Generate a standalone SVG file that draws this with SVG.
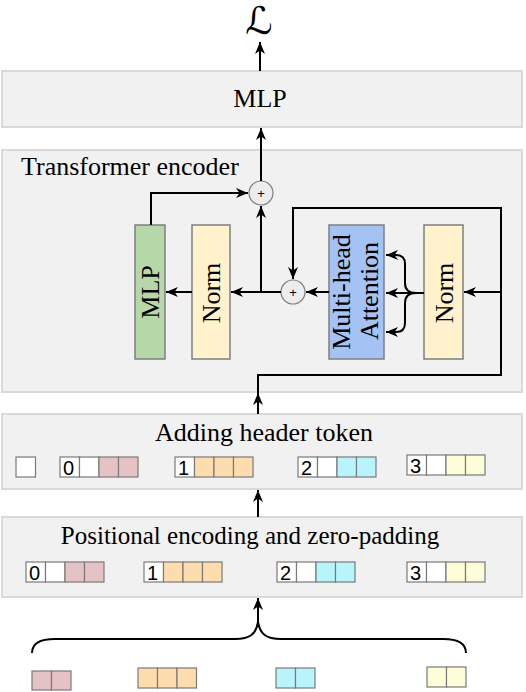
<svg xmlns="http://www.w3.org/2000/svg" width="526" height="692" viewBox="0 0 526 692">
<style>
.panel{fill:#f1f1f1;stroke:#d9d9d9;stroke-width:2}
.blk{stroke:#7f7f7f;stroke-width:1.5}
.t{font-family:"Liberation Serif",serif;font-size:26px;fill:#000}
.t25{font-family:"Liberation Serif",serif;font-size:25px;fill:#000}
.tr{font-family:"Liberation Serif",serif;font-size:26px;fill:#000}
.num{font-family:"Liberation Sans",sans-serif;font-size:20px;fill:#000}
.cell{stroke:#7a7a7a;stroke-width:1.2}
.w{fill:#ffffff}.p{fill:#e5c3c4}.o{fill:#fddcad}.c{fill:#b8f4fc}.y{fill:#fdfdd9}
.ln{fill:none;stroke:#000;stroke-width:2}
.circ{fill:#ededed;stroke:#7f7f7f;stroke-width:1.2}
.plus{font-family:"Liberation Sans",sans-serif;font-size:13px;fill:#000}
</style>
<defs>
<marker id="ah" markerUnits="userSpaceOnUse" markerWidth="14" markerHeight="12" refX="12" refY="5" orient="auto" viewBox="0 0 14 12">
<path d="M0,0 L12,5 L0,10 L3.5,5 Z" fill="#000"/>
</marker>
</defs>

<g id="loss"><text x="259" y="34" font-family="DejaVu Serif, DejaVu Sans, serif" font-size="38" text-anchor="middle">ℒ</text></g>

<g id="mlp-head">
<rect class="panel" x="2" y="71" width="520" height="56"/>
<text class="t" x="260" y="107" text-anchor="middle">MLP</text>
</g>

<g id="encoder">
<rect class="panel" x="2" y="150" width="520" height="242"/>
<text class="t" x="21" y="175">Transformer encoder</text>
</g>

<g id="enc-mlp">
<rect class="blk" x="135" y="225" width="30" height="134" fill="#b6d7a8"/>
<text class="tr" transform="translate(150,292) rotate(-90)" x="0" y="9" text-anchor="middle">MLP</text>
</g>
<g id="norm2">
<rect class="blk" x="192" y="225" width="38" height="134" fill="#fff2cc"/>
<text class="tr" transform="translate(211,293) rotate(-90)" x="0" y="9" text-anchor="middle">Norm</text>
</g>
<g id="mha">
<rect class="blk" x="329" y="225" width="55" height="134" fill="#a4c2f4"/>
<text class="tr" transform="translate(350,292) rotate(-90)" x="0" y="0" text-anchor="middle">Multi-head</text>
<text class="tr" transform="translate(378,291) rotate(-90)" x="0" y="0" text-anchor="middle">Attention</text>
</g>
<g id="norm1">
<rect class="blk" x="424" y="225" width="39" height="134" fill="#fff2cc"/>
<text class="tr" transform="translate(443.5,293) rotate(-90)" x="0" y="9" text-anchor="middle">Norm</text>
</g>
<g id="add1">
<circle class="circ" cx="293" cy="292" r="12"/>
<text class="plus" x="293" y="297" text-anchor="middle">+</text>
</g>
<g id="add2">
<circle class="circ" cx="261" cy="193" r="12"/>
<text class="plus" x="261" y="198" text-anchor="middle">+</text>
</g>

<g id="header">
<rect class="panel" x="2" y="414" width="520" height="75"/>
<text class="t" x="264" y="441" text-anchor="middle">Adding header token</text>
<rect class="cell w" x="16" y="457" width="19.5" height="20"/>
<g transform="translate(60,457)">
<rect class="cell w" x="0" y="0" width="19.5" height="20"/><rect class="cell w" x="19.5" y="0" width="19.5" height="20"/><rect class="cell p" x="39" y="0" width="19.5" height="20"/><rect class="cell p" x="58.5" y="0" width="19.5" height="20"/>
<text class="num" x="3" y="18">0</text></g>
<g transform="translate(175,457)">
<rect class="cell w" x="0" y="0" width="19.5" height="20"/><rect class="cell o" x="19.5" y="0" width="19.5" height="20"/><rect class="cell o" x="39" y="0" width="19.5" height="20"/><rect class="cell o" x="58.5" y="0" width="19.5" height="20"/>
<text class="num" x="3" y="18">1</text></g>
<g transform="translate(298,457)">
<rect class="cell w" x="0" y="0" width="19.5" height="20"/><rect class="cell w" x="19.5" y="0" width="19.5" height="20"/><rect class="cell c" x="39" y="0" width="19.5" height="20"/><rect class="cell c" x="58.5" y="0" width="19.5" height="20"/>
<text class="num" x="3" y="18">2</text></g>
<g transform="translate(407,455)">
<rect class="cell w" x="0" y="0" width="19.5" height="20"/><rect class="cell w" x="19.5" y="0" width="19.5" height="20"/><rect class="cell y" x="39" y="0" width="19.5" height="20"/><rect class="cell y" x="58.5" y="0" width="19.5" height="20"/>
<text class="num" x="3" y="18">3</text></g>
</g>

<g id="positional">
<rect class="panel" x="2" y="517" width="520" height="80"/>
<text class="t25" x="250" y="544" text-anchor="middle">Positional encoding and zero-padding</text>
<g transform="translate(26,562)">
<rect class="cell w" x="0" y="0" width="19.5" height="20"/><rect class="cell w" x="19.5" y="0" width="19.5" height="20"/><rect class="cell p" x="39" y="0" width="19.5" height="20"/><rect class="cell p" x="58.5" y="0" width="19.5" height="20"/>
<text class="num" x="3" y="18">0</text></g>
<g transform="translate(144,562)">
<rect class="cell w" x="0" y="0" width="19.5" height="20"/><rect class="cell o" x="19.5" y="0" width="19.5" height="20"/><rect class="cell o" x="39" y="0" width="19.5" height="20"/><rect class="cell o" x="58.5" y="0" width="19.5" height="20"/>
<text class="num" x="3" y="18">1</text></g>
<g transform="translate(277,562)">
<rect class="cell w" x="0" y="0" width="19.5" height="20"/><rect class="cell w" x="19.5" y="0" width="19.5" height="20"/><rect class="cell c" x="39" y="0" width="19.5" height="20"/><rect class="cell c" x="58.5" y="0" width="19.5" height="20"/>
<text class="num" x="3" y="18">2</text></g>
<g transform="translate(407,562)">
<rect class="cell w" x="0" y="0" width="19.5" height="20"/><rect class="cell w" x="19.5" y="0" width="19.5" height="20"/><rect class="cell y" x="39" y="0" width="19.5" height="20"/><rect class="cell y" x="58.5" y="0" width="19.5" height="20"/>
<text class="num" x="3" y="18">3</text></g>
</g>

<g id="inputs">
<g transform="translate(32,671)"><rect class="cell p" x="0" y="0" width="19.5" height="19"/><rect class="cell p" x="19.5" y="0" width="19.5" height="19"/></g>
<g transform="translate(138,668)"><rect class="cell o" x="0" y="0" width="19.5" height="20"/><rect class="cell o" x="19.5" y="0" width="19.5" height="20"/><rect class="cell o" x="39" y="0" width="19.5" height="20"/></g>
<g transform="translate(276,668)"><rect class="cell c" x="0" y="0" width="19.5" height="20"/><rect class="cell c" x="19.5" y="0" width="19.5" height="20"/></g>
<g transform="translate(427,667)"><rect class="cell y" x="0" y="0" width="19.5" height="20"/><rect class="cell y" x="19.5" y="0" width="19.5" height="20"/></g>
</g>

<g id="connectors">
<line class="ln" x1="260" y1="71" x2="260" y2="42" marker-end="url(#ah)"/>
<line class="ln" x1="261" y1="181" x2="261" y2="128" marker-end="url(#ah)"/>
<polyline class="ln" points="151,225 151,193 248,193" marker-end="url(#ah)"/>
<line class="ln" x1="261" y1="292" x2="261" y2="206" marker-end="url(#ah)"/>
<line class="ln" x1="192" y1="292" x2="166" y2="292" marker-end="url(#ah)"/>
<line class="ln" x1="281" y1="292" x2="231" y2="292" marker-end="url(#ah)"/>
<line class="ln" x1="329" y1="292" x2="306" y2="292" marker-end="url(#ah)"/>
<polyline class="ln" points="501,292 501,208 293,208 293,279" marker-end="url(#ah)"/>
<line class="ln" x1="501" y1="292" x2="464" y2="292" marker-end="url(#ah)"/>
<polyline class="ln" points="258,414 258,375 501,375 501,292"/>
<line class="ln" x1="258" y1="414" x2="258" y2="393" marker-end="url(#ah)"/>
<line class="ln" x1="424" y1="293" x2="386" y2="293" marker-end="url(#ah)"/>
<path class="ln" d="M416,293 C409,293 405,290 405,283 L405,264 C405,258 402,255 396,255 L386,255" marker-end="url(#ah)"/>
<path class="ln" d="M416,293 C409,293 405,296 405,303 L405,323 C405,329 402,332 396,332 L386,332" marker-end="url(#ah)"/>
<line class="ln" x1="258" y1="517" x2="258" y2="490" marker-end="url(#ah)"/>
<line class="ln" x1="258" y1="622" x2="258" y2="598" marker-end="url(#ah)"/>
<path class="ln" d="M32,653 C32,643 40,639 55,639 L235,639 C250,639 256,634 258,622 C260,634 266,639 281,639 L443,639 C458,639 466,643 466,653"/>
</g>
</svg>
